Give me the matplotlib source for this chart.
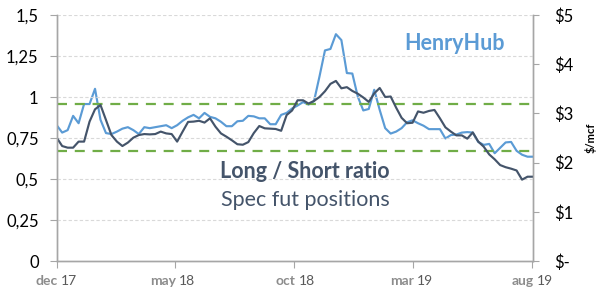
import matplotlib
matplotlib.use("Agg")
import matplotlib.pyplot as plt
import pandas as pd

plt.rcParams['font.family'] = ['Lato', 'DejaVu Sans']

dates = pd.date_range('2017-12-01', periods=88, freq='7D')

long_short_ratio = [
    0.752, 0.701, 0.691, 0.691, 0.728, 0.728, 0.850, 0.925, 0.951, 0.860,
    0.768, 0.728, 0.701, 0.722, 0.752, 0.768, 0.774, 0.772, 0.774, 0.789,
    0.778, 0.774, 0.728, 0.789, 0.848, 0.850, 0.855, 0.844, 0.870, 0.819,
    0.778, 0.758, 0.736, 0.712, 0.709, 0.725, 0.780, 0.823, 0.809, 0.807,
    0.805, 0.794, 0.890, 0.918, 0.980, 0.980, 0.960, 0.976, 1.000, 1.035,
    1.080, 1.098, 1.053, 1.060, 1.037, 1.020, 0.997, 0.970, 1.022, 1.055,
    1.000, 1.003, 0.935, 0.873, 0.840, 0.843, 0.912, 0.904, 0.915, 0.921,
    0.870, 0.815, 0.789, 0.766, 0.766, 0.746, 0.784, 0.728, 0.697, 0.650,
    0.620, 0.585, 0.572, 0.563, 0.552, 0.496, 0.514, 0.514,
]

henry_hub = [
    2.76, 2.61, 2.66, 2.95, 2.80, 3.19, 3.19, 3.50, 2.87, 2.60,
    2.58, 2.63, 2.69, 2.72, 2.66, 2.58, 2.72, 2.70, 2.72, 2.74,
    2.76, 2.70, 2.76, 2.85, 2.92, 2.97, 2.90, 3.01, 2.93, 2.90,
    2.83, 2.74, 2.74, 2.84, 2.85, 2.95, 2.94, 2.90, 2.90, 2.78,
    2.78, 2.97, 3.01, 3.10, 3.16, 3.23, 3.18, 3.25, 3.75, 4.28,
    4.31, 4.61, 4.49, 3.82, 3.81, 3.34, 3.06, 3.09, 3.48, 3.07,
    2.70, 2.59, 2.63, 2.70, 2.82, 2.86, 2.80, 2.75, 2.68, 2.68,
    2.68, 2.49, 2.56, 2.57, 2.61, 2.62, 2.61, 2.42, 2.36, 2.38,
    2.19, 2.30, 2.41, 2.42, 2.24, 2.16, 2.12, 2.12,
]

band_levels = [0.957, 0.671]

left_ticks = [0, 0.25, 0.5, 0.75, 1.0, 1.25, 1.5]
left_labels = ['0', '0,25', '0,5', '0,75', '1', '1,25', '1,5']
right_ticks = [0, 1, 2, 3, 4, 5]
right_labels = ['$-', '$1', '$2', '$3', '$4', '$5']
x_tick_dates = ['2017-12-01', '2018-05-01', '2018-10-01', '2019-03-01', '2019-08-01']
x_tick_months = ['dec', 'may', 'oct', 'mar', 'aug']
x_tick_years = ['17', '18', '18', '19', '19']

DARK = '#44546A'
BLUE = '#5B9BD5'
GREEN = '#70AD47'
SPINE = '#A6A6A6'

fig = plt.figure(figsize=(6.09, 3.0), dpi=100)
ax = fig.add_axes([56.7 / 609, 1 - 261 / 300, (533 - 56.7) / 609, (261 - 15) / 300])
ax2 = ax.twinx()

ax.set_ylim(0, 1.5)
ax2.set_ylim(0, 5)
ax.set_xlim(dates[0], dates[-1])

for y in left_ticks[1:]:
    ax.axhline(y, color='#D9D9D9', lw=0.8, ls=(0, (3, 2)), zorder=0)

for lvl in band_levels:
    ax.axhline(lvl, color=GREEN, lw=1.6, ls=(0, (4.5, 3.5)), zorder=1)

ax2.plot(dates, henry_hub, color=BLUE, lw=1.55, zorder=3)
ax.plot(dates, long_short_ratio, color=DARK, lw=1.55, zorder=2)
ax.set_zorder(ax2.get_zorder() + 1)
ax.patch.set_visible(False)

ax.set_yticks(left_ticks)
ax.set_yticklabels(left_labels)
ax2.set_yticks(right_ticks)
ax2.set_yticklabels(right_labels)

tick_pos = [pd.Timestamp(d) for d in x_tick_dates]
ax.set_xticks(tick_pos)
ax.set_xticklabels([''] * len(tick_pos))

for a in (ax, ax2):
    a.spines['top'].set_visible(False)
    for s in ('left', 'right', 'bottom'):
        a.spines[s].set_color(SPINE)
        a.spines[s].set_linewidth(1.0)

ax.tick_params(axis='y', length=5, color=SPINE, pad=8, labelsize=12, labelcolor='#000000')
ax2.tick_params(axis='y', length=4, color=SPINE, pad=11, labelsize=12, labelcolor='#000000')
ax.tick_params(axis='x', length=5, color=SPINE)

for d, m, yr in zip(tick_pos, x_tick_months, x_tick_years):
    ax.annotate(m, xy=(d, 0), xycoords=('data', 'axes fraction'),
                xytext=(1, -10), textcoords='offset points', ha='right', va='top',
                fontsize=10, fontweight='bold', color='#8C8C8C')
    ax.annotate(yr, xy=(d, 0), xycoords=('data', 'axes fraction'),
                xytext=(3, -10), textcoords='offset points', ha='left', va='top',
                fontsize=10, color='#595959')

ax2.set_ylabel('$/mcf', fontsize=8, fontweight='bold', labelpad=8, color='#000000')

fig.text(455 / 609, 1 - 43 / 300, 'HenryHub', fontsize=15.5, fontweight='bold',
         color=BLUE, ha='center', va='center')
fig.text(305 / 609, 1 - 172 / 300, 'Long / Short ratio', fontsize=15.5,
         fontweight='bold', color=DARK, ha='center', va='center')
fig.text(305 / 609, 1 - 200 / 300, 'Spec fut positions', fontsize=15.5,
         color=DARK, ha='center', va='center')

fig.savefig('out.png', dpi=100)
